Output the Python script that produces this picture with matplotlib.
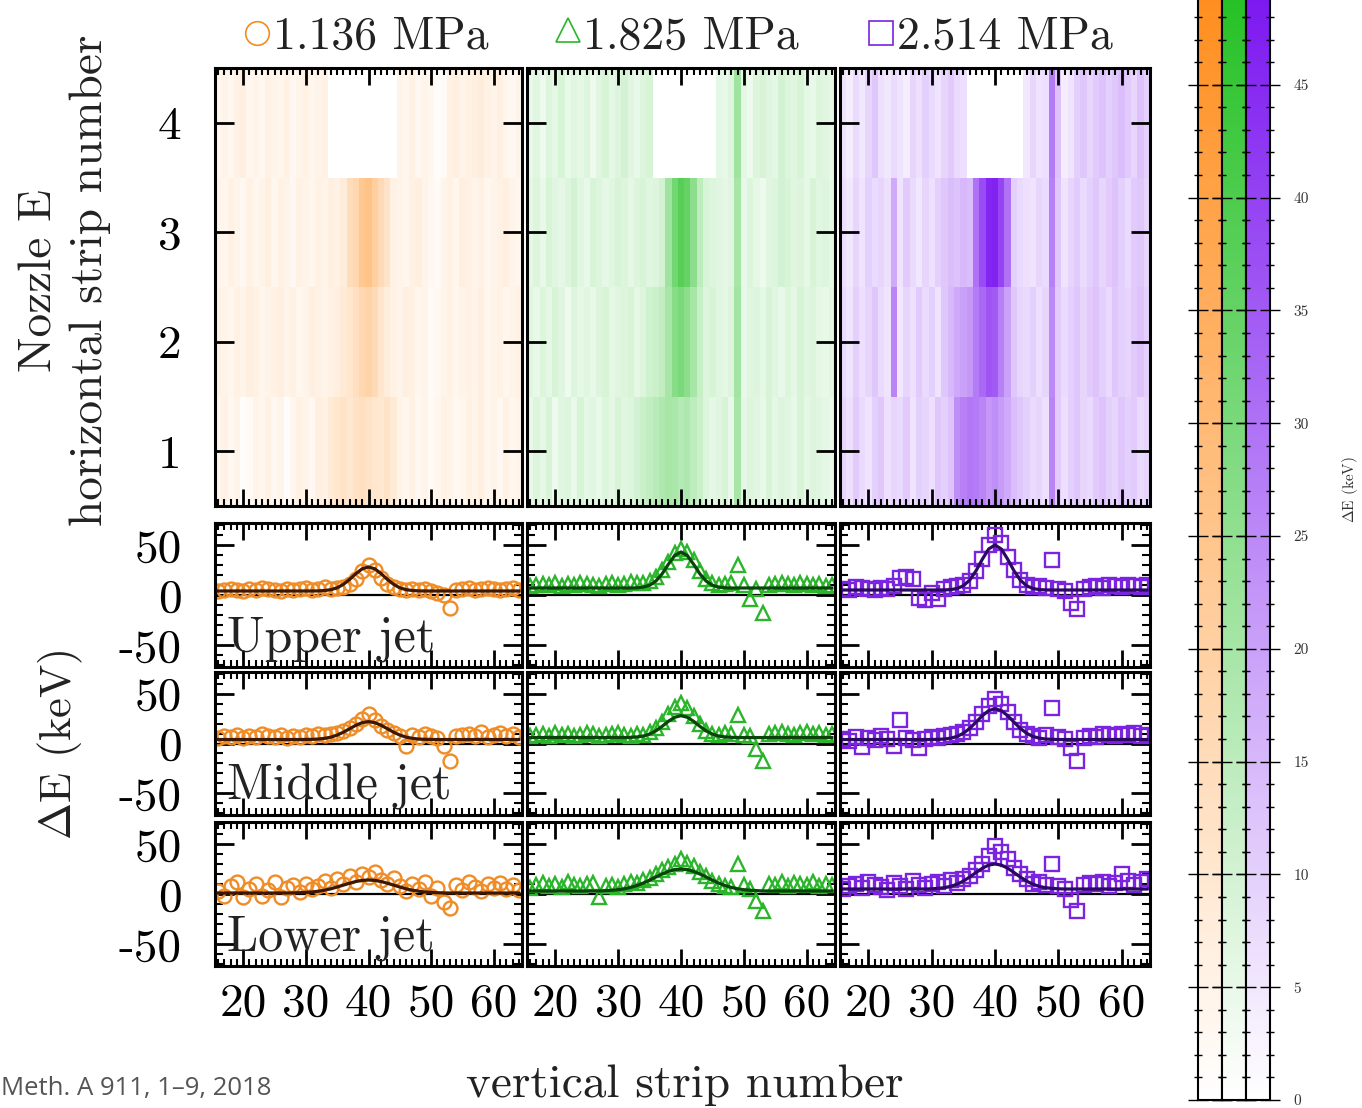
import numpy as np
import matplotlib
matplotlib.use("Agg")
import matplotlib.pyplot as plt
from matplotlib.colors import LinearSegmentedColormap
from matplotlib.lines import Line2D
from matplotlib.ticker import MultipleLocator, NullLocator, FixedLocator

plt.rcParams['font.family'] = ['cmr10', 'DejaVu Serif']
plt.rcParams['mathtext.fontset'] = 'cm'
plt.rcParams['axes.unicode_minus'] = False

# --- data ---
strips = np.arange(16, 65)          # vertical strip numbers 16..64
pressures = ['1.136 MPa', '1.825 MPa', '2.514 MPa']
jets = ['Upper jet', 'Middle jet', 'Lower jet']
scale_ticks = [0, 5, 10, 15, 20, 25, 30, 35, 40, 45]

# heatmaps: rows are horizontal strips 1..4 (bottom to top), values in keV
heat_orange = [
    [4,6,3,5,1,2,5,4,6,3,5,1,4,6,5,3,7,6, 9,11,12,10,13,14,12,11,10,12,9, 5,4,6,3,5,2,4,6,5,3,4,6,5,7,4,5,3,6,4,5],
    [6,5,4,6,5,7,6,4,5,6,7,5,6,4,5,7,6,5,6,7, 9,11,14,17,19,16,11,8, 6,5,7,6,4,5,2,3,5,6,4,5,6,5,7,4,5,6,4,5,6],
    [5,4,6,5,3,6,4,5,7,4,6,5,3,6,5,4,6,5,7,6, 8,15,17,24,26,21,16,12, 6,5,4,6,7,5,3,2,5,6,4,7,6,5,6,4,5,6,7,5,4],
    [4,5,3,6,7,4,5,3,6,5,4,6,3,5,6,4,5,6, 0,0,0,0,0,0,0,0,0,0,0, 5,4,6,3,5,4,1,2,6,7,5,6,7,8,6,5,7,4,3,5],
]
heat_green = [
    [5,8,6,9,4,7,8,5,9,6,7,5,8,6,9,7,8,10, 12,14,16,18,20,19,17,18,15,12, 8,6,7,9,5,20,6,8,7,5,9,6,8,7,5,9,6,8,7,6,5],
    [7,5,8,6,9,7,4,8,6,7,5,8,9,6,7,8,9,6,8,11,12, 14,20,27,30,26,20,13, 8,9,7,6,8,21,5,7,8,6,9,7,5,8,6,9,7,8,6,5,7],
    [6,8,5,9,7,6,8,10,7,5,9,8,6,7,9,8,6,8,9,7,8, 10,22,32,38,35,26,15, 9,8,7,6,7,20,5,8,6,4,7,8,10,9,7,8,6,9,7,8,6],
    [5,7,4,8,6,9,5,7,6,8,4,7,9,6,8,10,7,5,8,9, 0,0,0,0,0,0,0,0,0,0, 6,5,8,22,6,4,8,9,7,6,10,8,7,9,6,5,8,7,6],
]
heat_purple = [
    [9,7,11,8,6,10,12,7,9,8,11,6,10,9,7,12,10,13, 24,27,29,28,26,22,24,21,18,14,12, 10,8,9,7,26,11,7,10,12,9,8,11,13,10,9,12,10,11,8,9],
    [8,6,10,7,9,12,8,6,26,5,9,7,11,8,10,6,12,15,18,20,22, 28,32,36,35,27,20, 12,9,8,10,7,9,25,11,8,10,12,9,11,13,10,8,12,10,9,11,13,10],
    [7,5,9,6,10,8,9,7,18,6,11,8,5,9,7,10,12,14,13,15,14, 30,38,46,47,40,30, 10,8,7,6,9,8,27,12,6,9,11,8,10,12,9,11,13,10,8,11,12,9],
    [6,4,8,5,9,12,7,5,8,6,4,9,7,10,8,6,9,11,8,7, 0,0,0,0,0,0,0,0,0, 5,9,6,7,28,13,4,6,10,12,9,11,13,10,12,14,11,9,13,10],
]

# energy deposit per strip, rows = upper / middle / lower jet
de_orange = [
    [4,5,6,5,4,6,5,7,6,5,4,6,5,6,7,5,6,8, 6,7,8,11,16,24,30,25,17,11,8,6,5, 6,5,6,4,2,0,-13,5,6,7,5,6,7,6,5,6,7,5],
    [6,8,7,9,6,8,7,10,8,7,9,6,8,7,9,8,10,9, 10,11,13,16,20,25,30,24,18,14,11,8,-3, 9,7,10,8,6,-3,-18,8,9,10,8,12,7,9,11,8,10,7],
    [3,-2,8,12,-3,5,10,-2,4,12,-3,6,9,2,10,5,8,13, 6,15,10,18,12,20,17,22,14,10,16,8,3, 10,5,12,-2,6,-8,-14,9,4,12,7,3,10,6,11,5,9,4],
]
de_green = [
    [9,10,11,10,12,9,11,10,12,11,10,9,11,12,10,11,13,12, 12,14,18,25,33,42,46,43,35,24,16,12,10, 11,12,30,10,-4,6,-18,10,11,12,11,10,12,11,10,11,9,10],
    [8,9,10,8,11,9,10,8,9,11,10,8,9,10,11,9,8,10, 9,12,16,22,30,37,41,36,28,20,13,10,9, 11,10,29,9,8,-6,-18,10,11,12,10,9,11,12,10,11,9,10],
    [6,9,11,8,10,7,12,9,8,10,11,-3,8,9,7,10,12,11, 14,16,20,24,27,30,35,31,28,22,18,13,10, 8,7,30,9,5,-7,-17,10,9,12,8,11,10,9,12,8,10,9],
]
de_purple = [
    [6,5,8,7,6,5,7,6,9,17,18,16,-3,-5,2,-4,6,8, 9,10,14,24,36,50,60,52,38,25,15,10,8, 9,7,35,6,4,-8,-14,6,8,9,7,10,9,8,10,9,8,10],
    [5,3,7,-4,6,4,8,5,-3,24,6,4,-5,5,7,6,8,9, 10,12,16,22,30,38,45,40,32,22,14,10,8, 6,9,36,7,5,-5,-18,6,8,7,10,9,8,10,9,11,8,9],
    [5,8,10,6,12,9,7,4,11,8,5,13,9,6,10,12,8,14, 11,15,18,24,30,38,48,42,35,26,20,15,10, 12,9,30,8,5,-6,-17,9,11,10,12,8,11,20,13,9,12,15],
]

# fitted curves
fit_orange = [
    [4,4,4,4,4,4,4,4,4,4,4,4,4,4,4,4, 4.1,4.5,5.3,7.2,10.7,15.7,21.4,26.2, 28, 26.2,21.4,15.7,10.7,7.2,5.3,4.5,4.1, 4,4,4,4,4,4,4,4,4,4,4,4,4,4,4,4],
    [4,4,4,4,4,4,4,4,4,4,4,4,4,4, 4.1,4.2,4.5,5.2,6.4,8.5,11.4,14.9,18.4,21, 22, 21,18.4,14.9,11.4,8.5,6.4,5.2,4.5,4.2,4.1, 4,4,4,4,4,4,4,4,4,4,4,4,4,4],
    [1,1,1,1,1,1,1,1,1,1,1,1, 1.1,1.3,1.6,2,2.8,3.8,5.2,7,8.9,10.8,12.5,13.6, 14, 13.6,12.5,10.8,8.9,7,5.2,3.8,2.8,2,1.6,1.3,1.1, 1,1,1,1,1,1,1,1,1,1,1,1],
]
fit_green = [
    [7,7,7,7,7,7,7,7,7,7,7,7,7,7,7,7,7, 7.2,7.9,9.7,13.9,21.2,30.8,39.5, 43, 39.5,30.8,21.2,13.9,9.7,7.9,7.2, 7,7,7,7,7,7,7,7,7,7,7,7,7,7,7,7,7],
    [6,6,6,6,6,6,6,6,6,6,6,6,6,6,6,6, 6.2,6.6,7.5,9.5,12.7,17.3,22.4,26.4, 28, 26.4,22.4,17.3,12.7,9.5,7.5,6.6,6.2, 6,6,6,6,6,6,6,6,6,6,6,6,6,6,6,6],
    [3,3,3,3,3,3,3,3,3,3,3,3, 3.4,3.7,4.3,5.2,6.6,8.5,10.9,13.8,17,20,22.6,24.4, 25, 24.4,22.6,20,17,13.8,10.9,8.5,6.6,5.2,4.3,3.7,3.4, 3,3,3,3,3,3,3,3,3,3,3,3],
]
fit_purple = [
    [5,5,5,5,5,5,5,5,5,5,5,5,5,5,5,5, 5.1,5.4,6.5,9.2,14.9,24.2,35.8,46, 50, 46,35.8,24.2,14.9,9.2,6.5,5.4,5.1, 5,5,5,5,5,5,5,5,5,5,5,5,5,5,5,5],
    [4,4,4,4,4,4,4,4,4,4,4,4,4,4,4, 4.2,4.5,5.4,7.1,10.3,15.2,21.5,28,33.1, 35, 33.1,28,21.5,15.2,10.3,7.1,5.4,4.5,4.2, 4,4,4,4,4,4,4,4,4,4,4,4,4,4,4],
    [5,5,5,5,5,5,5,5,5,5,5,5,5,5, 5.2,5.6,6.3,7.6,9.8,12.9,17,21.5,25.8,28.9, 30, 28.9,25.8,21.5,17,12.9,9.8,7.6,6.3,5.6,5.2, 5,5,5,5,5,5,5,5,5,5,5,5,5,5],
]

# --- styling ---
W, H = 1362, 1108
BIG = 34
colors = ['#ef8c26', '#2bb52b', '#7a24e0']
fit_colors = ['#3d1700', '#0a440a', '#2c0860']
top_colors = ['#ff8c1a', '#22c022', '#7a14f0']
markers = ['o', '^', 's']
cmaps = [LinearSegmentedColormap.from_list('c%d' % i, ['#ffffff', c]) for i, c in enumerate(top_colors)]
heats = [heat_orange, heat_green, heat_purple]
des = [de_orange, de_green, de_purple]
fits = [fit_orange, fit_green, fit_purple]

col_x = [(215, 522), (527, 835), (840, 1150)]
heat_y = (68, 506)
row_y = [(523, 667), (672, 815), (822, 966)]

fig = plt.figure(figsize=(W / 100, H / 100), dpi=100)


def px_axes(x0, y0, x1, y1):
    return fig.add_axes([x0 / W, 1 - y1 / H, (x1 - x0) / W, (y1 - y0) / H])


def frame(ax):
    for sp in ax.spines.values():
        sp.set_linewidth(2.2)
    ax.xaxis.set_major_locator(MultipleLocator(10))
    ax.xaxis.set_minor_locator(MultipleLocator(1))
    ax.tick_params(which='both', direction='in', top=True, right=True,
                   labelsize=BIG, colors='black')
    ax.tick_params(axis='x', which='major', length=12, width=2, pad=12)
    ax.tick_params(axis='x', which='minor', length=5, width=1.5)
    ax.tick_params(axis='y', which='major', length=14, width=2, pad=24)
    ax.tick_params(axis='y', which='minor', length=6, width=1.5)
    ax.set_xlim(15.5, 64.5)


xedges = np.arange(15.5, 65.0, 1.0)
yedges = np.arange(0.5, 5.0, 1.0)

for c in range(3):
    x0, x1 = col_x[c]
    # --- heatmap of horizontal x vertical strips ---
    ax = px_axes(x0, heat_y[0], x1, heat_y[1])
    ax.pcolormesh(xedges, yedges, np.array(heats[c]), cmap=cmaps[c],
                  vmin=0, vmax=50, shading='flat', antialiased=False)
    frame(ax)
    ax.set_ylim(0.5, 4.5)
    ax.yaxis.set_major_locator(MultipleLocator(1))
    ax.yaxis.set_minor_locator(NullLocator())
    ax.tick_params(labelbottom=False, labelleft=(c == 0))

    # --- energy deposit per jet ---
    for r in range(3):
        ax = px_axes(x0, row_y[r][0], x1, row_y[r][1])
        ax.axhline(0, color='black', lw=1.6, zorder=1)
        ax.plot(strips, des[c][r], ls='none', marker=markers[c], ms=10,
                mfc='none', mec=colors[c], mew=1.7, zorder=2)
        ax.plot(strips, fits[c][r], color=fit_colors[c], lw=2.3, zorder=3)
        frame(ax)
        ax.set_ylim(-72, 72)
        ax.yaxis.set_major_locator(MultipleLocator(50))
        ax.yaxis.set_minor_locator(MultipleLocator(10))
        ax.tick_params(labelbottom=(r == 2), labelleft=(c == 0))
        if c == 0:
            ax.text(0.04, 0.11, jets[r], transform=ax.transAxes, fontsize=36,
                    ha='left', va='baseline', color='#222222', zorder=4)

# --- legend row at the top ---
leg_pos = [(257, 33, 273), (568, 30, 583), (881, 33, 897)]
for (mx, my, tx), col, mk, lab in zip(leg_pos, colors, markers, pressures):
    fig.add_artist(Line2D([mx / W], [1 - my / H], transform=fig.transFigure,
                          marker=mk, ms=17, mfc='none', mec=col, mew=1.2, ls='none'))
    fig.text(tx / W, 1 - 37 / H, lab, fontsize=33, ha='left', va='center', color='#222222')

# --- three-column colour scale on the right ---
grad = np.linspace(0, 50, 256).reshape(-1, 1)
cb_x = [(1198, 1222), (1222, 1246), (1246, 1270)]
for i, ((x0, x1), cmap) in enumerate(zip(cb_x, cmaps)):
    cax = px_axes(x0, -28, x1, 1100)   # value 50 sits just above the page edge
    cax.imshow(grad, aspect='auto', origin='lower', cmap=cmap, extent=[0, 1, 0, 50])
    cax.set_ylim(0, 50)
    cax.set_xticks([])
    cax.yaxis.set_major_locator(FixedLocator(scale_ticks))
    cax.yaxis.set_minor_locator(MultipleLocator(1))
    cax.tick_params(which='both', direction='inout', left=True, right=True,
                    labelleft=False, labelright=(i == 2), labelsize=11,
                    pad=10, labelcolor='#333333')
    cax.tick_params(which='major', length=14, width=1)
    cax.tick_params(which='minor', length=6, width=1)
    for sp in cax.spines.values():
        sp.set_linewidth(1.5)

fig.text(1350 / W, 1 - 490 / H, r'$\Delta$E (keV)', rotation=90, fontsize=11,
         ha='center', va='center', color='#333333')

# --- axis titles ---
fig.text(65 / W, 1 - 280 / H, 'Nozzle E\nhorizontal strip number', rotation=90,
         fontsize=BIG, ha='center', va='center', multialignment='center',
         linespacing=1.28, color='#222222')
fig.text(60 / W, 1 - 745 / H, r'$\Delta$E (keV)', rotation=90, fontsize=32,
         ha='center', va='center', color='#222222')
fig.text(685 / W, 1 - 1085 / H, 'vertical strip number', fontsize=BIG,
         ha='center', va='center', color='#222222')
fig.text(1 / W, 1 - 1088 / H, 'Meth. A 911, 1\u20139, 2018', fontsize=18.5,
         family=['Open Sans', 'DejaVu Sans'], ha='left', va='center', color='#555555')

fig.savefig('out.png', dpi=100)
